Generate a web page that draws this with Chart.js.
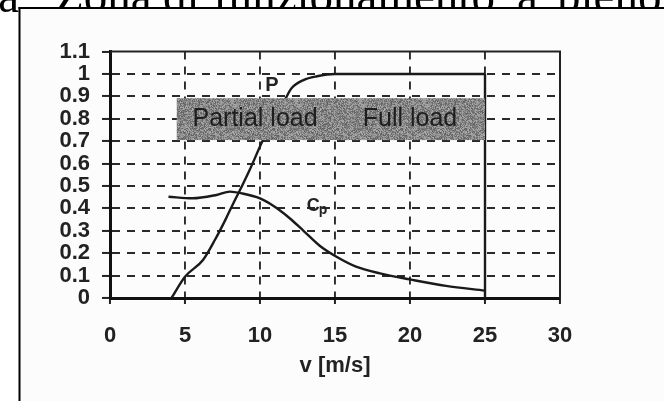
<!DOCTYPE html>
<html><head><meta charset="utf-8">
<script src="https://cdn.jsdelivr.net/npm/chart.js@4.4.1/dist/chart.umd.min.js"></script>
<style>html,body{margin:0;padding:0;background:#fff;overflow:hidden}#wrap{width:664px;height:401px;position:relative}</style>
</head><body><div id="wrap"><canvas id="c" width="664" height="401"></canvas></div>
<script>
// ---- data ----
const windSpeedP = [4.1, 5, 6.2, 7, 7.7, 8.2, 8.8, 9.3, 10.2, 11.7, 12.1, 12.9, 13.8, 15, 20, 25];
const powerP     = [0, 0.095, 0.17, 0.26, 0.35, 0.42, 0.5, 0.57, 0.705, 0.89, 0.936, 0.973, 0.99, 1.0, 1.0, 1.0];
const cutOutV    = [25, 25];
const cutOutP    = [1.0, 0.0];
const windSpeedCp = [3.9, 5.5, 7.1, 8.0, 8.8, 10, 10.7, 11.2, 12, 12.9, 14, 15.1, 16.4, 18, 20, 22.4, 25];
const cpValues    = [0.452, 0.445, 0.46, 0.475, 0.467, 0.445, 0.42, 0.397, 0.355, 0.30, 0.232, 0.184, 0.14, 0.11, 0.083, 0.054, 0.033];
const xTicks = [0, 5, 10, 15, 20, 25, 30];
const xTickLabels = ['0', '5', '10', '15', '20', '25', '30'];
const yTicks = [0, 0.1, 0.2, 0.3, 0.4, 0.5, 0.6, 0.7, 0.8, 0.9, 1.0, 1.1];
const yTickLabels = ['0', '0.1', '0.2', '0.3', '0.4', '0.5', '0.6', '0.7', '0.8', '0.9', '1', '1.1'];
const xTitle = 'v [m/s]';
const bandV = [4.45, 25];
const bandY = [0.705, 0.892];
const regionNames = ['Partial load', 'Full load'];
const regionCenterV = [9.67, 20];
const regionCenterY = 0.80;
const headerWords = ['la', 'Zona', 'di', 'funzionamento', 'a', 'pieno'];

const pts = (xs, ys) => xs.map((x, i) => ({x, y: ys[i]}));
const INK = '#1a1a1a';

// deterministic grainy texture for the shaded band
function makeTexture(ctx){
  const c = document.createElement('canvas'); c.width = 64; c.height = 64;
  const g = c.getContext('2d'); const img = g.createImageData(64, 64);
  for (let j = 0; j < 64; j++) for (let i = 0; i < 64; i++) {
    let h = Math.imul(i * 374761393 + j * 668265263, 1274126177) >>> 0;
    h = (h ^ (h >>> 13)) >>> 0;
    const v = 134 + (h % 80) - 40;
    const k = (j * 64 + i) * 4;
    img.data[k] = img.data[k+1] = img.data[k+2] = v; img.data[k+3] = 255;
  }
  g.putImageData(img, 0, 0);
  return ctx.createPattern(c, 'repeat');
}

const decor = {
  id: 'decor',
  beforeDraw(chart){
    const ctx = chart.ctx; ctx.save();
    ctx.fillStyle = '#fff'; ctx.fillRect(0, 0, 664, 401);
    ctx.fillStyle = '#000';
    ctx.font = '47px "Liberation Serif", "Times New Roman", serif';
    ctx.textBaseline = 'alphabetic';
    const xs = [19, 55, 163, 213, 517, 557];
    headerWords.forEach((w, i) => { ctx.textAlign = i === 0 ? 'right' : 'left'; ctx.fillText(w, xs[i], 12); });
    ctx.fillStyle = '#fcfcfc'; ctx.fillRect(20, 8, 644, 393);
    ctx.fillStyle = '#000'; ctx.fillRect(18.5, 7, 2, 394); ctx.fillRect(18.5, 7, 646, 2);
    ctx.restore();
  },
  afterDatasetsDraw(chart){
    const ctx = chart.ctx, xs = chart.scales.x, ys = chart.scales.y, a = chart.chartArea;
    ctx.save();
    // shaded band
    const x0 = xs.getPixelForValue(bandV[0]), x1 = xs.getPixelForValue(bandV[1]);
    const y0 = ys.getPixelForValue(bandY[1]), y1 = ys.getPixelForValue(bandY[0]);
    ctx.fillStyle = makeTexture(ctx);
    ctx.fillRect(x0, y0, x1 - x0, y1 - y0);
    ctx.fillStyle = '#1e1e1e';
    ctx.font = '25px "Liberation Sans", Arial, sans-serif';
    ctx.textAlign = 'center'; ctx.textBaseline = 'middle';
    regionNames.forEach((n, i) => ctx.fillText(n, xs.getPixelForValue(regionCenterV[i]), ys.getPixelForValue(regionCenterY)));
    // curve labels
    ctx.fillStyle = '#222';
    ctx.font = 'bold 20px "Liberation Sans", Arial, sans-serif';
    ctx.fillText('P', xs.getPixelForValue(10.8), ys.getPixelForValue(0.95));
    ctx.font = 'bold 18px "Liberation Sans", Arial, sans-serif';
    ctx.fillText('C', xs.getPixelForValue(13.55), ys.getPixelForValue(0.41));
    ctx.font = 'bold 14px "Liberation Sans", Arial, sans-serif';
    ctx.fillText('p', xs.getPixelForValue(14.2), ys.getPixelForValue(0.39));
    // top and right frame of the plot
    ctx.strokeStyle = '#222'; ctx.lineWidth = 2;
    ctx.beginPath();
    ctx.moveTo(a.left, a.top); ctx.lineTo(a.right, a.top); ctx.lineTo(a.right, a.bottom);
    ctx.stroke();
    ctx.restore();
  }
};

const tickFont = {family: '"Liberation Sans", Arial, sans-serif', size: 22, weight: 'bold', lineHeight: 1.0};

new Chart(document.getElementById('c'), {
  type: 'line',
  data: {
    datasets: [
      {label: 'P', data: pts(windSpeedP, powerP), cubicInterpolationMode: 'monotone'},
      {label: 'P cut-out', data: pts(cutOutV, cutOutP), tension: 0},
      {label: 'Cp', data: pts(windSpeedCp, cpValues), cubicInterpolationMode: 'monotone'}
    ].map(d => Object.assign({borderColor: INK, borderWidth: 2.4, pointRadius: 0, fill: false}, d))
  },
  options: {
    responsive: false, animation: false, devicePixelRatio: 1,
    layout: {padding: {left: 0, top: 51.6, right: 104, bottom: 0}},
    plugins: {legend: {display: false}, tooltip: {enabled: false}},
    scales: {
      x: {
        type: 'linear', min: 0, max: 30,
        afterBuildTicks: s => { s.ticks = xTicks.map(v => ({value: v})); },
        afterFit: s => { s.height = 103; },
        ticks: {font: tickFont, color: '#222', padding: 21, maxRotation: 0, autoSkip: false,
                callback: (v, i) => xTickLabels[i]},
        grid: {color: c => (c.tick && (c.tick.value === 0 || c.tick.value === 30)) ? 'rgba(0,0,0,0)' : '#2a2a2a',
               lineWidth: 1.9, tickLength: 6, tickWidth: 2, tickColor: '#222'},
        border: {display: true, color: '#111', width: 3, dash: [8, 7]},
        title: {display: true, text: xTitle, font: Object.assign({}, tickFont, {lineHeight: 1.2}), color: '#222', padding: {top: 0, bottom: 22}}
      },
      y: {
        type: 'linear', min: 0, max: 1.1,
        afterBuildTicks: s => { s.ticks = yTicks.map(v => ({value: v})); },
        afterFit: s => { s.width = 110; },
        ticks: {font: tickFont, color: '#222', padding: 12, autoSkip: false,
                callback: (v, i) => yTickLabels[i]},
        grid: {color: c => (c.tick && (c.tick.value === 0 || Math.abs(c.tick.value - 1.1) < 1e-6)) ? 'rgba(0,0,0,0)' : '#2a2a2a',
               lineWidth: 1.9, tickLength: 8, tickWidth: 2, tickColor: '#222'},
        border: {display: true, color: '#111', width: 3, dash: [8, 7]}
      }
    }
  },
  plugins: [decor]
});
</script>
</body></html>
